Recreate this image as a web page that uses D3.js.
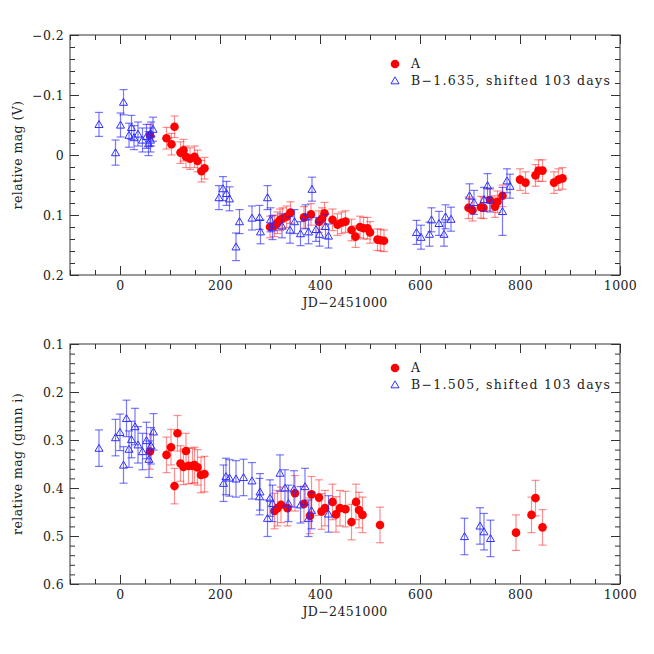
<!DOCTYPE html>
<html>
<head>
    <meta charset="utf-8">
    <script src="https://d3js.org/d3.v7.min.js"></script>
    <style>
        body { margin: 0; background: #fff; }
        text { font-family: "DejaVu Serif", serif; }
    </style>
</head>
<body>
    <svg width="654" height="654"></svg>
    <script>

        // V band, image A
        var vA_jd  = [60, 93, 103, 109, 121, 127, 132, 140, 149, 155, 163, 169,
                      300, 309, 315, 320, 325, 333, 341, 368, 382, 398, 404, 409, 425, 435, 443, 451,
                      463, 471, 480, 487, 495, 500, 515, 521, 528,
                      697, 705, 722, 727, 740, 750, 755, 765, 800, 811, 831, 837, 845, 868, 877, 885];
        var vA_mag = [-0.033, -0.028, -0.018, -0.047, -0.004, -0.008, 0.003, 0.006, 0.003, 0.010, 0.027, 0.022,
                      0.120, 0.118, 0.113, 0.108, 0.106, 0.103, 0.096, 0.104, 0.099, 0.111, 0.106, 0.097, 0.108, 0.116, 0.113, 0.111,
                      0.125, 0.136, 0.120, 0.122, 0.122, 0.129, 0.141, 0.142, 0.143,
                      0.088, 0.092, 0.087, 0.088, 0.075, 0.086, 0.078, 0.068, 0.041, 0.046, 0.034, 0.026, 0.026, 0.046, 0.041, 0.039];
        var vA_err = 0.018;

        // V band, image B (shifted)
        var vB_jd  = [-42, -9, 1, 7, 18, 23, 28, 36, 45, 53, 57, 61, 62, 66,
                      198, 206, 213, 219, 232, 239, 264, 279, 281, 295, 301, 305, 324, 340, 349, 361, 371, 377, 384, 392, 399, 411, 417,
                      593, 602, 619, 623, 638, 648, 651, 662,
                      699, 708, 728, 735, 740, 765, 774, 780];
        var vB_mag = [-0.051, -0.004, -0.050, -0.088, -0.033, -0.046, -0.029, -0.035, -0.025, -0.031, -0.019, -0.025, -0.035, -0.043,
                      0.071, 0.056, 0.064, 0.073, 0.153, 0.111, 0.105, 0.104, 0.128, 0.071, 0.108, 0.121, 0.118, 0.125, 0.111, 0.131, 0.103, 0.128, 0.057, 0.124, 0.132, 0.119, 0.135,
                      0.129, 0.137, 0.132, 0.108, 0.114, 0.132, 0.103, 0.107,
                      0.068, 0.079, 0.074, 0.051, 0.075, 0.094, 0.043, 0.052];
        var vB_err = [0.020, 0.021, 0.020, 0.021, 0.020, 0.020, 0.020, 0.020, 0.020, 0.020, 0.020, 0.020, 0.020, 0.020,
                      0.020, 0.020, 0.020, 0.020, 0.023, 0.020, 0.020, 0.020, 0.020, 0.020, 0.020, 0.020, 0.020, 0.022, 0.020, 0.020, 0.020, 0.020, 0.020, 0.020, 0.020, 0.020, 0.020,
                      0.020, 0.020, 0.020, 0.020, 0.020, 0.020, 0.020, 0.020,
                      0.020, 0.020, 0.020, 0.020, 0.020, 0.040, 0.020, 0.020];

        // gunn i, image A
        var iA_jd  = [60, 93, 102, 109, 115, 121, 127, 132, 137, 145, 149, 155, 162, 169,
                      309, 315, 322, 335, 350, 368, 380, 383, 398, 403, 410, 425, 432, 440, 451, 463, 472, 478, 485, 520,
                      792, 823, 831, 845];
        var iA_mag = [0.324, 0.331, 0.315, 0.396, 0.286, 0.349, 0.356, 0.323, 0.354, 0.354, 0.352, 0.357, 0.373, 0.371,
                      0.448, 0.442, 0.435, 0.442, 0.411, 0.433, 0.458, 0.413, 0.420, 0.449, 0.442, 0.429, 0.455, 0.442, 0.444, 0.471, 0.429, 0.446, 0.456, 0.477,
                      0.493, 0.456, 0.421, 0.482];
        var iA_err = 0.037;

        // gunn i, image B (shifted)
        var iB_jd  = [-42, -9, 0, 7, 13, 18, 23, 30, 36, 45, 53, 58, 62, 67,
                      207, 212, 219, 232, 247, 264, 279, 280, 295, 300, 305, 320, 330, 337, 348, 361, 370, 377, 383, 417,
                      689, 720, 728, 741];
        var iB_mag = [0.317, 0.295, 0.284, 0.352, 0.255, 0.319, 0.299, 0.272, 0.310, 0.324, 0.301, 0.340, 0.312, 0.283,
                      0.390, 0.376, 0.379, 0.381, 0.378, 0.385, 0.418, 0.408, 0.463, 0.421, 0.432, 0.369, 0.400, 0.432, 0.402, 0.435, 0.397, 0.463, 0.447, 0.454,
                      0.501, 0.479, 0.491, 0.505];
        var iB_err = 0.038;

        var svg = d3.select("svg");

        var x = d3.scaleLinear().domain([-100, 1000]).range([70, 620]);

        function zip(xs, ys, es) {
            return xs.map(function(d, i) {
                return {x: d, y: ys[i], e: Array.isArray(es) ? es[i] : es};
            });
        }

        function panel(cfg) {
            var y = d3.scaleLinear().domain(cfg.ydom).range([cfg.top, cfg.bottom]);
            var g = svg.append("g");
            var fmt = function(d) { return Math.abs(d) < 1e-9 ? "0" : d3.format(".1f")(d); };

            // ticks on all four sides, pointing in
            var yMinor = d3.range(cfg.ydom[0], cfg.ydom[1] + 1e-9, 0.02);
            var xMinor = d3.range(-100, 1000.1, 50);

            g.append("g").attr("transform", "translate(0," + cfg.bottom + ")")
             .call(d3.axisBottom(x).tickValues(xMinor).tickSize(-5).tickFormat(""));
            g.append("g").attr("transform", "translate(0," + cfg.top + ")")
             .call(d3.axisTop(x).tickValues(xMinor).tickSize(-5).tickFormat(""));
            g.append("g").attr("transform", "translate(70,0)")
             .call(d3.axisLeft(y).tickValues(yMinor).tickSize(-5).tickFormat(""));
            g.append("g").attr("transform", "translate(620,0)")
             .call(d3.axisRight(y).tickValues(yMinor).tickSize(-5).tickFormat(""));

            g.append("g").attr("transform", "translate(0," + cfg.bottom + ")")
             .call(d3.axisBottom(x).tickValues(cfg.xticks).tickSizeInner(-9).tickSizeOuter(0).tickPadding(6).tickFormat(d3.format("d")));
            g.append("g").attr("transform", "translate(0," + cfg.top + ")")
             .call(d3.axisTop(x).tickValues(cfg.xticks).tickSizeInner(-9).tickSizeOuter(0).tickFormat(""));
            g.append("g").attr("transform", "translate(70,0)")
             .call(d3.axisLeft(y).tickValues(cfg.yticks).tickSizeInner(-9).tickSizeOuter(0).tickPadding(6).tickFormat(fmt));
            g.append("g").attr("transform", "translate(620,0)")
             .call(d3.axisRight(y).tickValues(cfg.yticks).tickSizeInner(-9).tickSizeOuter(0).tickFormat(""));

            g.selectAll(".domain").remove();
            g.selectAll(".tick line").attr("stroke", "#333");
            g.selectAll(".tick text").style("font-family", "DejaVu Serif").style("font-size", "12.5px")
             .style("letter-spacing", "0.4px").attr("fill", "#222");

            g.append("rect").attr("x", 70).attr("y", cfg.top)
             .attr("width", 550).attr("height", cfg.bottom - cfg.top)
             .attr("fill", "none").attr("stroke", "#333").attr("stroke-width", 1);

            // axis titles
            g.append("text").attr("x", 345).attr("y", cfg.bottom + 32)
             .attr("text-anchor", "middle").style("font-size", "12.5px").style("letter-spacing", "0.4px").attr("fill", "#222")
             .text("JD\u22122451000");
            g.append("text")
             .attr("transform", "translate(22," + ((cfg.top + cfg.bottom) / 2) + ") rotate(-90)")
             .attr("text-anchor", "middle").style("font-size", "12.5px").style("letter-spacing", "0.4px").attr("fill", "#222")
             .text(cfg.ytitle);

            function errbars(data, color, op) {
                var eg = g.append("g").attr("stroke", color).attr("stroke-opacity", op).attr("stroke-width", 1.2);
                data.forEach(function(d) {
                    var px = x(d.x), y0 = y(d.y - d.e), y1 = y(d.y + d.e);
                    eg.append("line").attr("x1", px).attr("x2", px).attr("y1", y0).attr("y2", y1);
                    eg.append("line").attr("x1", px - 4).attr("x2", px + 4).attr("y1", y0).attr("y2", y0);
                    eg.append("line").attr("x1", px - 4).attr("x2", px + 4).attr("y1", y1).attr("y2", y1);
                });
            }

            var tri = d3.symbol().type(d3.symbolTriangle).size(28);

            errbars(cfg.a, "#ff2020", 0.5);
            g.append("g").selectAll("circle").data(cfg.a).enter().append("circle")
             .attr("cx", function(d) { return x(d.x); })
             .attr("cy", function(d) { return y(d.y); })
             .attr("r", 4.3).attr("fill", "#ff0000");

            errbars(cfg.b, "#2020ff", 0.6);
            g.append("g").selectAll("path").data(cfg.b).enter().append("path")
             .attr("d", tri)
             .attr("transform", function(d) { return "translate(" + x(d.x) + "," + (y(d.y) + 0.8) + ")"; })
             .attr("fill", "none").attr("stroke", "#3030ff").attr("stroke-width", 1);

            // legend
            var lg = g.append("g");
            lg.append("circle").attr("cx", 395).attr("cy", cfg.leg).attr("r", 4.3).attr("fill", "#ff0000");
            lg.append("text").attr("x", 411).attr("y", cfg.leg + 4).style("font-size", "12.5px").attr("fill", "#222").text("A");
            lg.append("path").attr("d", tri)
              .attr("transform", "translate(395," + (cfg.leg + 17.5) + ")")
              .attr("fill", "none").attr("stroke", "#3030ff").attr("stroke-width", 1);
            lg.append("text").attr("x", 411).attr("y", cfg.leg + 21).style("font-size", "12.5px")
              .style("letter-spacing", "1.3px").attr("fill", "#222").text(cfg.btext);
        }

        panel({
            top: 35, bottom: 275, ydom: [-0.2, 0.2],
            xticks: [0, 200, 400, 600, 800, 1000],
            yticks: [-0.2, -0.1, 0, 0.1, 0.2],
            ytitle: "relative mag (V)",
            a: zip(vA_jd, vA_mag, vA_err),
            b: zip(vB_jd, vB_mag, vB_err),
            leg: 64,
            btext: "B\u22121.635, shifted 103 days"
        });

        panel({
            top: 344, bottom: 584, ydom: [0.1, 0.6],
            xticks: [0, 200, 400, 600, 800, 1000],
            yticks: [0.1, 0.2, 0.3, 0.4, 0.5, 0.6],
            ytitle: "relative mag (gunn i)",
            a: zip(iA_jd, iA_mag, iA_err),
            b: zip(iB_jd, iB_mag, iB_err),
            leg: 368,
            btext: "B\u22121.505, shifted 103 days"
        });

    </script>
</body>
</html>
